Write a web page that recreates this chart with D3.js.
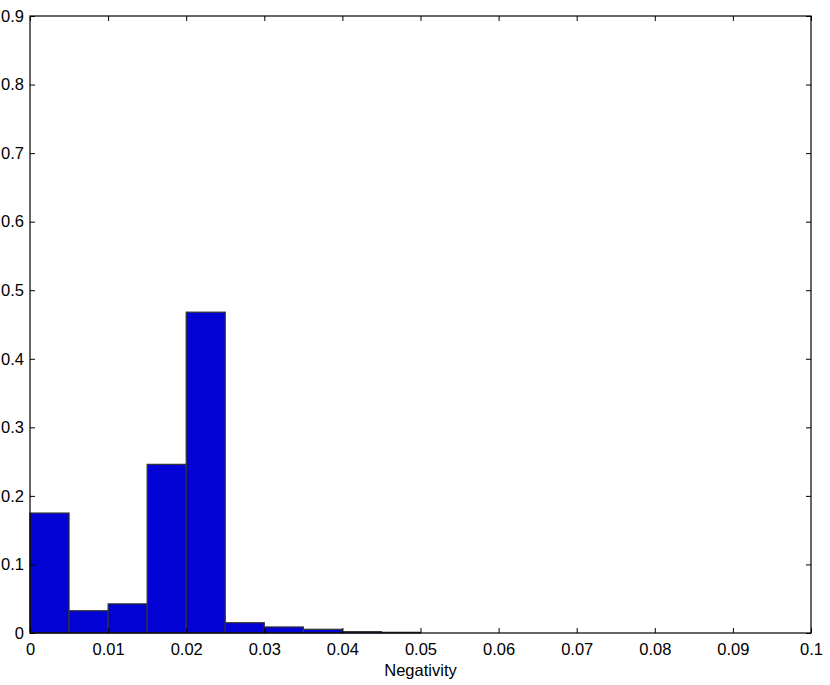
<!DOCTYPE html>
<html><head><meta charset="utf-8">
<script src="https://cdn.jsdelivr.net/npm/d3@7"></script>
<style>body{margin:0;background:#fff}svg text{font-family:"Liberation Sans",Arial,sans-serif}</style>
</head><body>
<svg id="c" width="830" height="685"></svg>
<script>
const binStarts = [0,0.005,0.01,0.015,0.02,0.025,0.03,0.035,0.04,0.045];
const binWidth = 0.005;
const values = [0.175,0.0325,0.0425,0.246,0.468,0.015,0.0088,0.0054,0.002,0.001];
const xTicks = [0,0.01,0.02,0.03,0.04,0.05,0.06,0.07,0.08,0.09,0.1];
const yTicks = [0,0.1,0.2,0.3,0.4,0.5,0.6,0.7,0.8,0.9];
const xLabel = "Negativity";

const svg = d3.select("#c");
const L=30,R=811,T=16,B=633;
const x = d3.scaleLinear().domain([0,0.1]).range([L,R]);
const y = d3.scaleLinear().domain([0,0.9]).range([B,T]);

svg.append("g").selectAll("rect").data(values).join("rect")
  .attr("x",(d,i)=>x(binStarts[i])).attr("width",(d,i)=>x(binStarts[i]+binWidth)-x(binStarts[i]))
  .attr("y",d=>y(d)).attr("height",d=>B-y(d))
  .attr("fill","#0202d4").attr("stroke","#333").attr("stroke-width",1.2);

const fmt = d=> d===0?"0":String(+d.toFixed(2));
const tl=5, fs=16.5;
svg.append("g").attr("transform",`translate(0,${B})`)
  .call(d3.axisBottom(x).tickValues(xTicks).tickFormat(fmt).tickSizeInner(-tl).tickSizeOuter(0).tickPadding(10))
  .call(g=>{g.select(".domain").remove();g.selectAll("text").attr("font-size",fs).attr("fill","#000");g.selectAll("line").attr("stroke","#000");});
svg.append("g").attr("transform",`translate(0,${T})`)
  .call(d3.axisTop(x).tickValues(xTicks).tickFormat("").tickSizeInner(-tl).tickSizeOuter(0))
  .call(g=>{g.select(".domain").remove();g.selectAll("line").attr("stroke","#000");});
svg.append("g").attr("transform",`translate(${L},0)`)
  .call(d3.axisLeft(y).tickValues(yTicks).tickFormat(fmt).tickSizeInner(-tl).tickSizeOuter(0).tickPadding(6))
  .call(g=>{g.select(".domain").remove();g.selectAll("text").attr("font-size",fs).attr("fill","#000");g.selectAll("line").attr("stroke","#000");});
svg.append("g").attr("transform",`translate(${R},0)`)
  .call(d3.axisRight(y).tickValues(yTicks).tickFormat("").tickSizeInner(-tl).tickSizeOuter(0))
  .call(g=>{g.select(".domain").remove();g.selectAll("line").attr("stroke","#000");});

svg.append("rect").attr("x",L).attr("y",T).attr("width",R-L).attr("height",B-T)
  .attr("fill","none").attr("stroke","#000").attr("stroke-width",1.2);

svg.append("text").attr("x",(L+R)/2).attr("y",676).attr("text-anchor","middle")
  .attr("font-size",fs).text(xLabel);
</script>
</body></html>
